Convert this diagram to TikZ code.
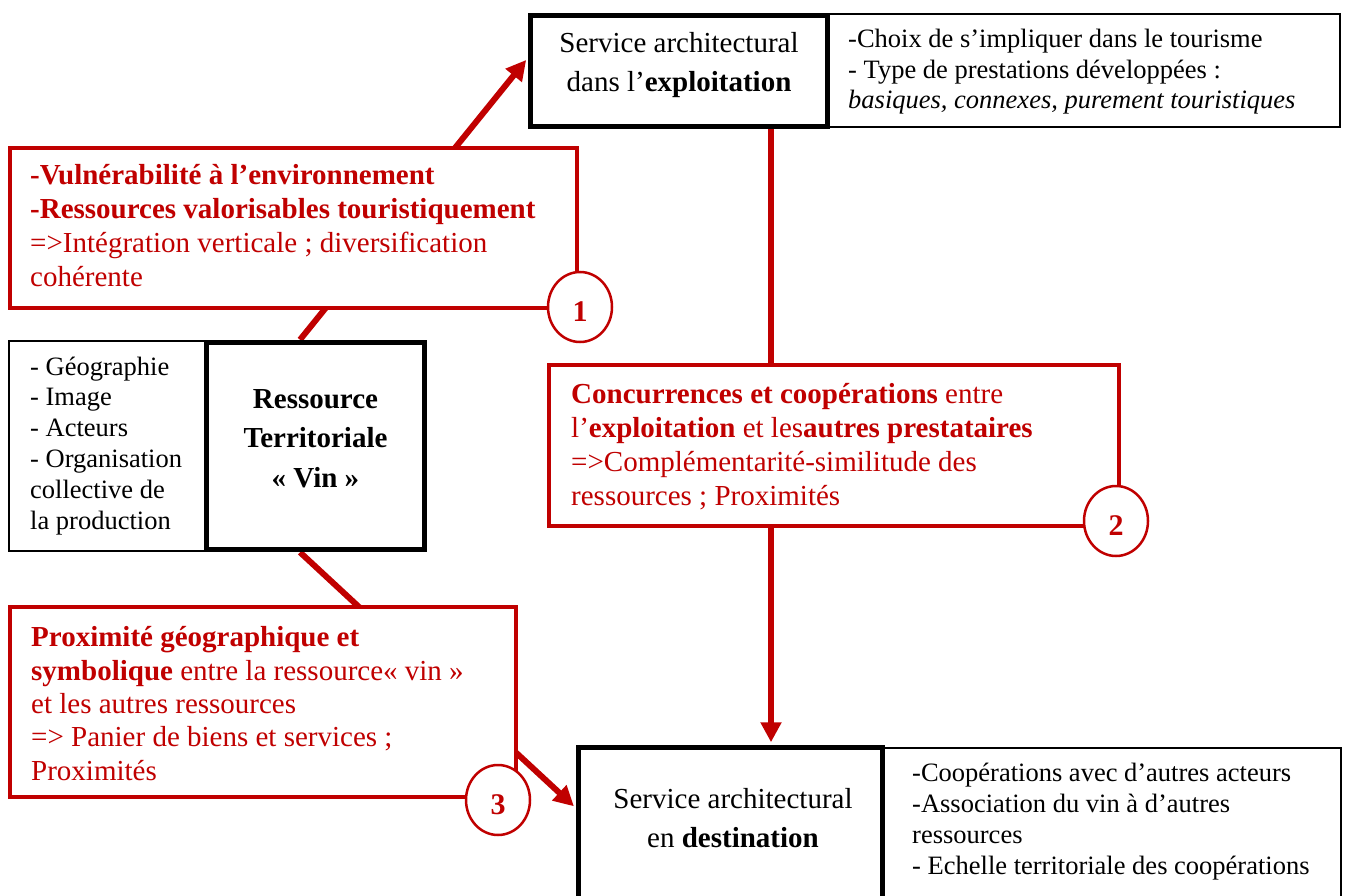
\documentclass[tikz,border=0pt]{standalone}
\usepackage{fontspec}
\setmainfont{Liberation Serif}
\usetikzlibrary{arrows.meta,shapes.geometric,fit,backgrounds}
\definecolor{dred}{HTML}{C00000}
\begin{document}
\begin{tikzpicture}[x=1pt,y=-1pt,
  thickbox/.style={draw=black,line width=5.5pt,fill=white,inner sep=0pt},
  thinbox/.style={draw=black,line width=1.8pt,fill=white,inner sep=0pt},
  redbox/.style={draw=dred,line width=4pt,fill=white,inner sep=0pt},
  numcirc/.style={ellipse,draw=dred,line width=2.5pt,fill=white,inner sep=0pt,
    minimum width=64pt,minimum height=70pt,text=dred,text height=29pt,text depth=0pt,
    font=\fontsize{30}{34}\selectfont\bfseries},
  redline/.style={draw=dred,line width=6pt},
  redarrow/.style={redline,-{Triangle[length=20pt,width=20pt]},shorten >=2.5pt},
  bigtxt/.style={inner sep=0pt,font=\fontsize{29}{34}\selectfont},
  smalltxt/.style={inner sep=0pt,font=\fontsize{26.5}{30.5}\selectfont}]
\useasboundingbox (0,0) rectangle (1347,896);
\clip (0,0) rectangle (1347,896);

% boxes
\node[thinbox,fit={(829,14) (1340,127)}] (rt1) {};
\node[thickbox,fit={(530.5,15.5) (827.5,126.5)}] (top) {};
\node[thinbox,fit={(9,341) (206,551)}] (lt) {};
\node[thickbox,fit={(206.5,342.5) (424.5,549.5)}] (res) {};
\node[thinbox,fit={(883,748) (1341,905)}] (rt3) {};
\node[thickbox,fit={(578.5,747.5) (882.5,910)}] (dest) {};

\node[redbox,fit={(10,148) (577,308)}] (b1) {};
\node[redbox,fit={(549,365) (1119,526)}] (b2) {};
\node[redbox,fit={(10,607) (516,797)}] (b3) {};

\node[numcirc] (c1) at (580,307) {1};
\node[numcirc] (c2) at (1116,521) {2};
\node[numcirc] (c3) at (498,800) {3};

% connectors
\begin{scope}[on background layer]
\draw[redarrow] ([xshift=-15.5pt]res.north) -- ([yshift=13pt]top.west);
\draw[redarrow] ([xshift=92pt]top.south) -- ([xshift=92pt]top.south |- dest.north);
\draw[redarrow] ([xshift=-15.5pt]res.south) -- ([yshift=20.75pt]dest.west);
\end{scope}

% texts (anchor base = baseline of the last line)
\node[bigtxt,font=\fontsize{29}{39}\selectfont,align=center,anchor=base] (toptxt) at (679,92)
  {Service architectural\\dans l’\textbf{exploitation}};
\node[smalltxt,font=\fontsize{26.5}{30.3}\selectfont,align=left,anchor=base west] (rt1txt) at (848,108.6)
  {-Choix de s’impliquer dans le tourisme\\- Type de prestations développées :\\\textit{basiques, connexes, purement touristiques}};
\node[bigtxt,text=dred,align=left,anchor=base west] (b1txt) at (30,287)
  {\textbf{-Vulnérabilité à l’environnement}\\\textbf{-Ressources valorisables touristiquement}\\=>Intégration verticale ; diversification\\cohérente};
\node[smalltxt,font=\fontsize{26.5}{30.8}\selectfont,align=left,anchor=base west] (lttxt) at (30,529)
  {- Géographie\\- Image\\- Acteurs\\- Organisation\\collective de\\la production};
\node[bigtxt,font=\fontsize{29}{39.5}\selectfont\bfseries,align=center,anchor=base] (restxt) at (315.5,487)
  {Ressource\\Territoriale\\« Vin »};
\node[bigtxt,font=\fontsize{29}{33.7}\selectfont,text=dred,align=left,anchor=base west] (b2txt) at (571,505)
  {\textbf{Concurrences et coopérations} entre\\l’\textbf{exploitation} et les\textbf{autres prestataires}\\=>Complémentarité-similitude des\\ressources ; Proximités};
\node[bigtxt,font=\fontsize{29}{33.3}\selectfont,text=dred,align=left,anchor=base west] (b3txt) at (31,780)
  {\textbf{Proximité géographique et}\\\textbf{symbolique} entre la ressource« vin »\\et les autres ressources\\=> Panier de biens et services ;\\Proximités};
\node[bigtxt,font=\fontsize{29}{39}\selectfont,align=center,anchor=base] (desttxt) at (733,847)
  {Service architectural\\en \textbf{destination}};
\node[smalltxt,font=\fontsize{26.5}{31}\selectfont,align=left,anchor=base west] (rt3txt) at (912,874)
  {-Coopérations avec d’autres acteurs\\-Association du vin à d’autres\\ressources\\- Echelle territoriale des coopérations};
\end{tikzpicture}
\end{document}
